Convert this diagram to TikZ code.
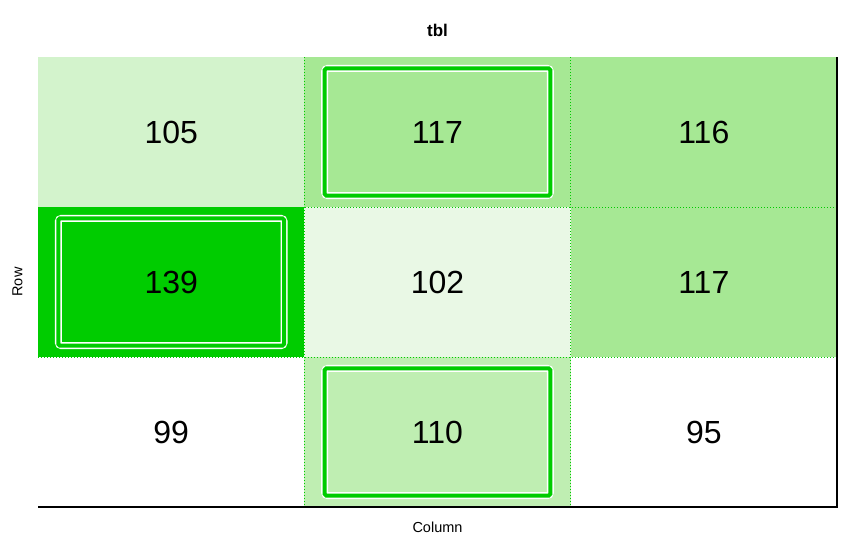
\documentclass[tikz,border=0pt]{standalone}
\usepackage{fontspec}
\setmainfont{Liberation Sans}
\newlength{\du}
\setlength{\du}{1pt}
\definecolor{hotgreen}{rgb}{0.000000, 0.800000, 0.000000}
\definecolor{tintonefive}{rgb}{0.827451, 0.952941, 0.800000}
\definecolor{tintoneseven}{rgb}{0.650980, 0.909804, 0.580392}
\definecolor{tintonetwo}{rgb}{0.913725, 0.972549, 0.898039}
\definecolor{tintoneten}{rgb}{0.749020, 0.933333, 0.698039}
\tikzset{
  gridline/.style={draw=hotgreen, line width=1\du, dash pattern=on 1\du off 2\du},
  axisline/.style={draw=black, line width=1.2\du},
  boxouter/.style={draw=white, line width=7\du, rounded corners=3\du},
  boxinner/.style={draw=hotgreen, line width=4\du, rounded corners=1.5\du},
  cellnum/.style={font=\fontsize{32}{38}\selectfont, inner sep=0pt},
  axislabel/.style={font=\fontsize{14.5}{17}\selectfont, inner sep=0pt},
}

\begin{document}
\begin{tikzpicture}
\pgftransformxscale{1.000000}
\pgftransformyscale{-1.000000}
\useasboundingbox (0\du,0\du) rectangle (865\du,546\du);
% cell fills
\fill[tintonefive] (38.0\du,57.0\du)--(38.0\du,207.0\du)--(304.3\du,207.0\du)--(304.3\du,57.0\du)--cycle;
\fill[tintoneseven] (304.3\du,57.0\du)--(304.3\du,207.0\du)--(570.6\du,207.0\du)--(570.6\du,57.0\du)--cycle;
\fill[tintoneseven] (570.6\du,57.0\du)--(570.6\du,207.0\du)--(836.9\du,207.0\du)--(836.9\du,57.0\du)--cycle;
\fill[hotgreen] (38.0\du,207.0\du)--(38.0\du,357.0\du)--(304.3\du,357.0\du)--(304.3\du,207.0\du)--cycle;
\fill[tintonetwo] (304.3\du,207.0\du)--(304.3\du,357.0\du)--(570.6\du,357.0\du)--(570.6\du,207.0\du)--cycle;
\fill[tintoneseven] (570.6\du,207.0\du)--(570.6\du,357.0\du)--(836.9\du,357.0\du)--(836.9\du,207.0\du)--cycle;
\fill[tintoneten] (304.3\du,357.0\du)--(304.3\du,507.0\du)--(570.6\du,507.0\du)--(570.6\du,357.0\du)--cycle;
% dotted grid
\draw[gridline] (304.3\du,57.0\du)--(304.3\du,507.0\du);
\draw[gridline] (570.6\du,57.0\du)--(570.6\du,507.0\du);
\draw[gridline] (38.0\du,207.0\du)--(836.9\du,207.0\du);
\draw[gridline] (38.0\du,357.0\du)--(836.9\du,357.0\du);
% highlight boxes
\draw[boxouter] (324.7\du,68.4\du)--(324.7\du,195.6\du)--(550.3\du,195.6\du)--(550.3\du,68.4\du)--cycle;
\draw[boxinner] (324.7\du,68.4\du)--(324.7\du,195.6\du)--(550.3\du,195.6\du)--(550.3\du,68.4\du)--cycle;
\draw[boxouter] (58.4\du,218.4\du)--(58.4\du,345.6\du)--(284.0\du,345.6\du)--(284.0\du,218.4\du)--cycle;
\draw[boxinner] (58.4\du,218.4\du)--(58.4\du,345.6\du)--(284.0\du,345.6\du)--(284.0\du,218.4\du)--cycle;
\draw[boxouter] (324.7\du,368.4\du)--(324.7\du,495.6\du)--(550.3\du,495.6\du)--(550.3\du,368.4\du)--cycle;
\draw[boxinner] (324.7\du,368.4\du)--(324.7\du,495.6\du)--(550.3\du,495.6\du)--(550.3\du,368.4\du)--cycle;
% axes
\draw[axisline] (38.0\du,507.0\du)--(836.9\du,507.0\du)--(836.9\du,57.0\du);
% setfont left to latex
\node[cellnum] (cellaa) at (171.2\du,132.0\du){105};
\node[cellnum] (cellab) at (437.5\du,132.0\du){117};
\node[cellnum] (cellac) at (703.8\du,132.0\du){116};
\node[cellnum] (cellba) at (171.2\du,282.0\du){139};
\node[cellnum] (cellbb) at (437.5\du,282.0\du){102};
\node[cellnum] (cellbc) at (703.8\du,282.0\du){117};
\node[cellnum] (cellca) at (171.2\du,432.0\du){99};
\node[cellnum] (cellcb) at (437.5\du,432.0\du){110};
\node[cellnum] (cellcc) at (703.8\du,432.0\du){95};
% setfont left to latex
\node[font=\fontsize{17}{20}\selectfont\bfseries, inner sep=0pt] (title) at (437.5\du,30.0\du){tbl};
\node[axislabel] (xlabel) at (437.5\du,527.0\du){Column};
\node[axislabel, rotate=90] (ylabel) at (17.5\du,282.0\du){Row};
\end{tikzpicture}
\end{document}
